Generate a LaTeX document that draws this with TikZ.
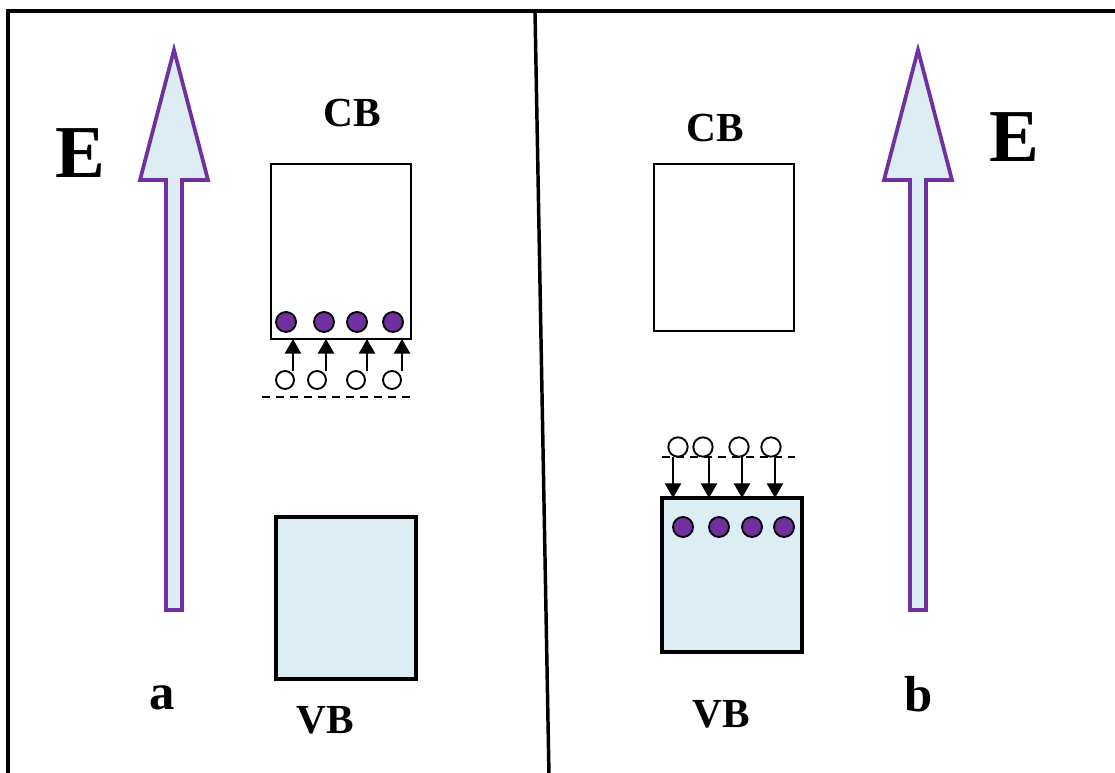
\documentclass[tikz,border=0pt]{standalone}
\usepackage{fontspec}
\setmainfont{Liberation Serif}
\usetikzlibrary{arrows.meta}
\definecolor{bandfill}{HTML}{DCEEF3}
\definecolor{carrier}{HTML}{7030A0}
\tikzset{
  frameline/.style={line width=2.6pt},
  cbbox/.style={draw, line width=1.3pt, minimum width=105pt, inner sep=0pt, outer sep=0pt},
  vbbox/.style={draw, line width=2.8pt, fill=bandfill, minimum width=105pt, inner sep=0pt, outer sep=0pt},
  electron/.style={circle, draw, line width=1.4pt, fill=carrier, minimum size=15pt, inner sep=0pt},
  hole/.style={circle, draw, line width=1.4pt, fill=white, minimum size=13.5pt, inner sep=0pt},
  transfer/.style={line width=2pt, -{Triangle[width=12pt,length=11pt]}},
  levelline/.style={line width=1.3pt, dash pattern=on 6pt off 4.5pt},
  fieldarrow/.style={draw=carrier, line width=2.8pt, fill=bandfill, line join=miter},
  bigE/.style={font=\bfseries\fontsize{56}{60}\selectfont, inner sep=0pt},
  bandlabel/.style={font=\bfseries\fontsize{31}{34}\selectfont, inner sep=0pt},
  panellabel/.style={font=\bfseries\fontsize{38}{42}\selectfont, inner sep=0pt, anchor=base},
}
\begin{document}
\begin{tikzpicture}[x=0.75pt, y=-0.75pt]
\useasboundingbox (0,0) rectangle (1115,773);

% outer frame and the divider between the two panels
\coordinate (fr-tl) at (8,11);
\coordinate (fr-tr) at (1118,11);
\coordinate (fr-bl) at (8,776);
\coordinate (dv-t) at (535,11);
\coordinate (dv-b) at (549,776);
\draw[frameline] (fr-bl) -- (fr-tl) -- (fr-tr);
\draw[frameline] (dv-t) -- (dv-b);

% ---------- panel a ----------
\draw[fieldarrow] (174,50) -- (208,180) -- (182,180) -- (182,610) -- (166,610)
  -- (166,180) -- (140,180) -- cycle;
\node[bigE] (Ea) at (80,153) {E};
\node[bandlabel] (cbla) at (352,113) {CB};
\node[cbbox, minimum height=131.25pt] (cba) at (341,251.5) {};
\node[vbbox, minimum height=121.5pt] (vba) at (346,598) {};
\node[bandlabel] (vbla) at (325,720) {VB};
\node[panellabel] (pa) at (162,710) {a};

\foreach \i/\x in {1/286,2/324,3/357,4/393}
  \node[electron] (ea\i) at (\x,322) {};
\foreach \i/\x in {1/285,2/317,3/356,4/392}
  \node[hole] (ha\i) at (\x,380) {};
\foreach \i/\x in {1/293,2/326,3/367,4/402}{
  \coordinate (sa\i) at (\x,371);
  \draw[transfer] (sa\i) -- (sa\i |- cba.south);
}
\coordinate (lva-l) at (262,397);
\coordinate (lva-r) at (410,397);
\draw[levelline] (lva-l) -- (lva-r);

% ---------- panel b ----------
\draw[fieldarrow] (918,50) -- (952,180) -- (926,180) -- (926,610) -- (910,610)
  -- (910,180) -- (884,180) -- cycle;
\node[bigE] (Eb) at (1014,137) {E};
\node[bandlabel] (cblb) at (715,128) {CB};
\node[cbbox, minimum height=125.25pt] (cbb) at (724,247.5) {};
\node[vbbox, minimum height=115.5pt] (vbb) at (732,575) {};
\node[bandlabel] (vblb) at (721,714) {VB};
\node[panellabel] (pb) at (919,711) {b};

\foreach \i/\x in {1/683,2/719,3/752,4/784}
  \node[electron] (eb\i) at (\x,527) {};
\foreach \i/\x in {1/678,2/703,3/739,4/771}
  \node[hole, minimum size=14.5pt] (hb\i) at (\x,447) {};
\coordinate (lvb-l) at (662,457);
\coordinate (lvb-r) at (795,457);
\draw[levelline] (lvb-l) -- (lvb-r);
\foreach \i/\x in {1/673,2/709,3/742,4/775}{
  \coordinate (sb\i) at (\x,457);
  \draw[transfer] (sb\i) -- (sb\i |- vbb.north);
}
\end{tikzpicture}
\end{document}
